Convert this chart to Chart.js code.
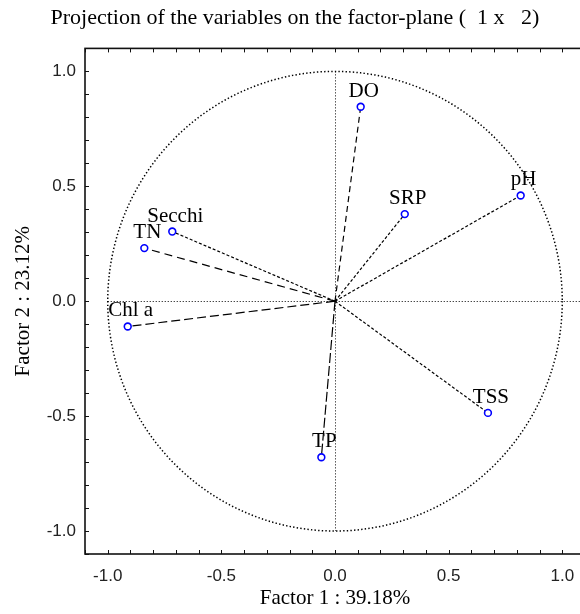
<!DOCTYPE html>
<html>
<head>
<meta charset="utf-8">
<script src="https://cdn.jsdelivr.net/npm/chart.js@4/dist/chart.umd.min.js"></script>
<style>
  html, body { margin: 0; padding: 0; background: #fff; overflow: hidden; }
  #wrap { width: 590px; height: 614px; }
</style>
</head>
<body>
<div id="wrap"><canvas id="c" width="590" height="614"></canvas></div>
<script>
// ---- data ----
const variables = ["DO", "SRP", "pH", "Secchi", "TN", "Chl a", "TP", "TSS"];
const factor1 = [0.113, 0.307, 0.817, -0.716, -0.839, -0.912, -0.060, 0.673];
const factor2 = [0.846, 0.379, 0.460, 0.303, 0.231, -0.110, -0.679, -0.486];
const xTickLabels = [-1.0, -0.5, 0.0, 0.5, 1.0];
const yTickLabels = [-1.0, -0.5, 0.0, 0.5, 1.0];
const titleText = "Projection of the variables on the factor-plane (  1 x   2)";
const xTitle = "Factor 1 : 39.18%";
const yTitle = "Factor 2 : 23.12%";

// ---- styles ----
const dashStyles = [[6, 4], [3, 2], [3, 2], [3, 2], [8, 5], [9, 4], [10, 3], [3, 2]];
const SERIF = "'Liberation Serif', 'Times New Roman', serif";
const SANS = "'Liberation Sans', Arial, sans-serif";

const datasets = variables.map((v, i) => ({
  label: v,
  data: [{x: 0, y: 0}, {x: factor1[i], y: factor2[i]}],
  showLine: true,
  borderColor: '#000',
  borderWidth: 1.2,
  borderDash: dashStyles[i],
  pointRadius: [0, 3.4],
  pointBorderWidth: 1.6,
  pointBorderColor: '#0000ff',
  pointBackgroundColor: '#ffffff',
  pointHoverRadius: [0, 3.4]
}));

const decorPlugin = {
  id: 'decor',
  beforeDatasetsDraw(chart) {
    const {ctx, scales: {x, y}} = chart;
    const cx = x.getPixelForValue(0), cy = y.getPixelForValue(0);
    const rx = x.getPixelForValue(1) - cx, ry = cy - y.getPixelForValue(1);
    ctx.save();
    ctx.strokeStyle = '#000';
    ctx.lineWidth = 1.5;
    ctx.setLineDash([1.4, 2.2]);
    ctx.beginPath();
    ctx.ellipse(cx, cy, rx, ry, 0, 0, Math.PI * 2);
    ctx.stroke();
    // zero lines
    const pcx = Math.round(cx) + 0.5, pcy = Math.round(cy) + 0.5;
    ctx.lineWidth = 1;
    ctx.setLineDash([1, 2]);
    ctx.beginPath();
    ctx.moveTo(x.getPixelForValue(-1), pcy);
    ctx.lineTo(x.getPixelForValue(1.1), pcy);
    ctx.moveTo(pcx, y.getPixelForValue(1));
    ctx.lineTo(pcx, y.getPixelForValue(-1));
    ctx.stroke();
    ctx.restore();
  },
  afterDatasetsDraw(chart) {
    const {ctx} = chart;
    ctx.save();
    ctx.fillStyle = '#000';
    ctx.font = '21px ' + SERIF;
    ctx.textAlign = 'center';
    ctx.textBaseline = 'alphabetic';
    chart.data.datasets.forEach((ds, i) => {
      const el = chart.getDatasetMeta(i).data[1];
      ctx.fillText(variables[i], el.x + 3, el.y - 10);
    });
    ctx.restore();
  },
  afterDraw(chart) {
    const {ctx, chartArea: a, scales: {x, y}} = chart;
    ctx.save();
    ctx.strokeStyle = '#111';
    ctx.lineWidth = 1.6;
    ctx.strokeRect(a.left, a.top, a.right - a.left, a.bottom - a.top);
    ctx.lineWidth = 1;
    ctx.beginPath();
    for (let k = -11; k <= 11; k++) {
      const v = k / 10;
      const px = Math.round(x.getPixelForValue(v)) + 0.5;
      const py = Math.round(y.getPixelForValue(v)) + 0.5;
      ctx.moveTo(px, a.bottom); ctx.lineTo(px, a.bottom - 4);
      ctx.moveTo(px, a.top); ctx.lineTo(px, a.top + 4);
      ctx.moveTo(a.left, py); ctx.lineTo(a.left + 4, py);
      ctx.moveTo(a.right, py); ctx.lineTo(a.right - 4, py);
    }
    ctx.stroke();
    ctx.restore();
  }
};

new Chart(document.getElementById('c'), {
  type: 'scatter',
  data: { datasets },
  options: {
    responsive: false,
    animation: false,
    devicePixelRatio: 1,
    layout: { padding: { left: 0, right: 0, top: 0, bottom: 0 } },
    plugins: {
      legend: { display: false },
      tooltip: { enabled: false },
      title: {
        display: true,
        text: titleText,
        color: '#000',
        font: { family: SERIF, size: 22, weight: 'normal' },
        padding: { top: 5, bottom: 17 }
      }
    },
    scales: {
      x: {
        type: 'linear',
        min: -1.1, max: 1.1,
        grid: { display: false, drawTicks: false },
        border: { display: false },
        afterBuildTicks: s => { s.ticks = xTickLabels.map(v => ({value: v})); },
        afterFit: s => { s.height = 60; },
        ticks: {
          padding: 12,
          color: '#222',
          font: { family: SANS, size: 17 },
          callback: v => Number(v).toFixed(1)
        },
        title: {
          display: true,
          text: xTitle,
          color: '#000',
          font: { family: SERIF, size: 21 },
          padding: { top: 0, bottom: 3 }
        }
      },
      y: {
        type: 'linear',
        min: -1.1, max: 1.1,
        grid: { display: false, drawTicks: false },
        border: { display: false },
        afterBuildTicks: s => { s.ticks = yTickLabels.map(v => ({value: v})); },
        afterFit: s => { s.width = 85; },
        ticks: {
          padding: 9,
          color: '#222',
          font: { family: SANS, size: 17 },
          callback: v => Number(v).toFixed(1)
        },
        title: {
          display: true,
          text: yTitle,
          color: '#000',
          font: { family: SERIF, size: 21 },
          padding: { top: 11, bottom: 0 }
        }
      }
    }
  },
  plugins: [decorPlugin]
});
</script>
</body>
</html>
